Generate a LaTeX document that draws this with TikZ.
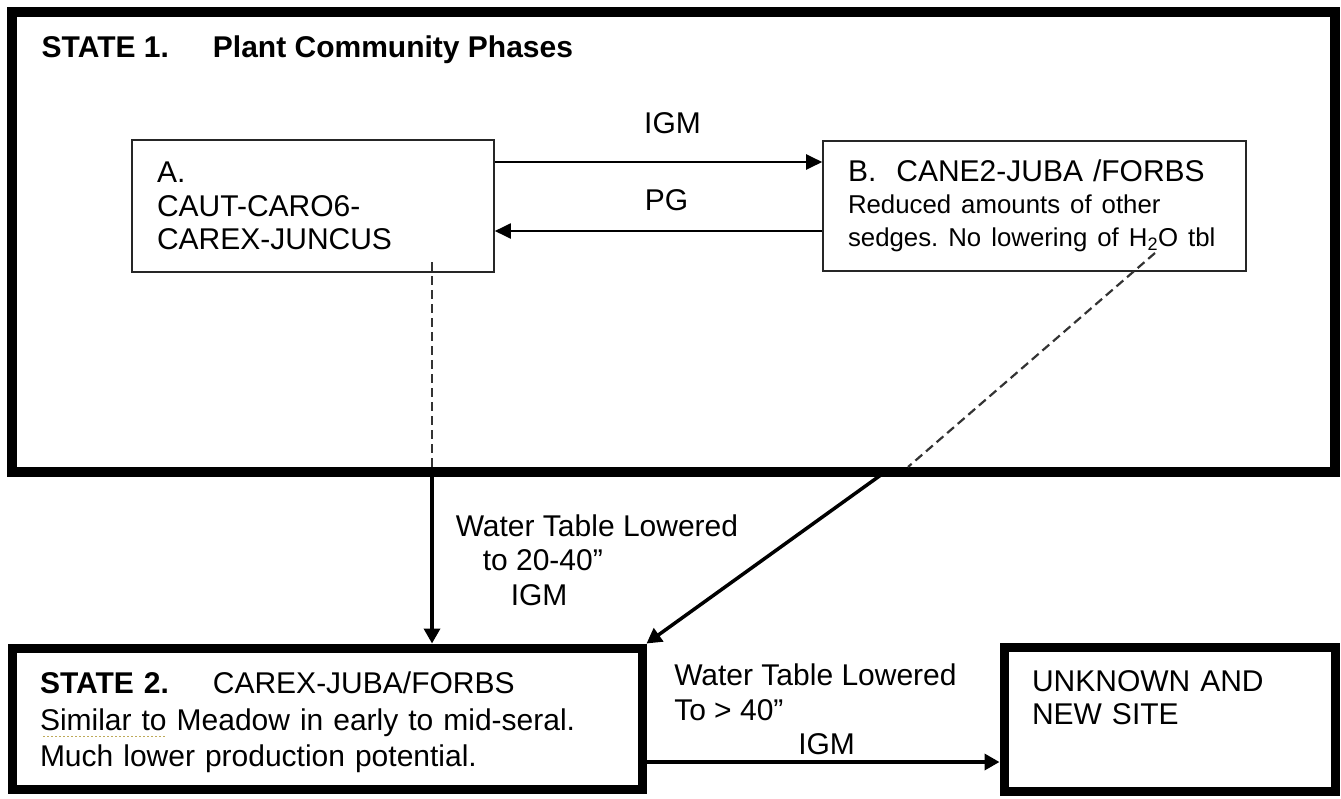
\documentclass[tikz,border=0pt]{standalone}
\usepackage{fontspec}
\setmainfont{Liberation Sans}
\usetikzlibrary{arrows.meta}
\definecolor{squiggle}{RGB}{190,170,90}
\newcommand{\mainsize}{\fontsize{30}{33.5}\selectfont}
\newcommand{\smallsize}{\fontsize{25.8}{32}\selectfont}
\newcommand{\lblsize}{\fontsize{30}{34.5}\selectfont}
\tikzstyle{phase} = [rectangle, draw=black!85, line width=1.6pt, inner xsep=25pt, inner ysep=0pt, align=left, font=\mainsize]
\tikzstyle{statebox} = [rectangle, draw=black, line width=9pt, inner xsep=28pt, inner ysep=0pt, align=left, font=\mainsize]
\tikzstyle{arrow} = [line width=2pt, -{Triangle[length=16pt,width=15pt]}]
\tikzstyle{bigarrow} = [line width=3.5pt, -{Triangle[length=15pt,width=16pt]}]
\tikzstyle{dashline} = [line width=2.2pt, dash pattern=on 9pt off 5pt, black!80]
\tikzstyle{lbl} = [font=\lblsize, inner sep=0pt, align=left]

\begin{document}
\frenchspacing
\begin{tikzpicture}[x=1pt, y=-1pt]
    \useasboundingbox (0,0) rectangle (1341,798);
    % state 1 frame
    \node (state1) [statebox, line width=10pt, minimum width=1323pt, minimum height=460pt] at (673.5,242) {};
    \node (title) [lbl, font=\mainsize\bfseries, anchor=base west] at (41.5,57) {STATE 1.\hspace{44pt}Plant Community Phases};
    % community phases
    \node (phaseA) [phase, minimum width=362pt, minimum height=132pt, text width=312pt] at (313,206) {A.\\CAUT-CARO6-\\CAREX-JUNCUS};
    \node (phaseB) [phase, minimum width=423pt, minimum height=130pt, text width=373pt] at (1034.5,206) {B.\ \ CANE2-JUBA /FORBS\\\smallsize Reduced amounts of other\\sedges. No lowering of H\textsubscript{2}O tbl};
    \draw [arrow] ([yshift=44pt]phaseA.east) -- node (igmAB) [lbl, above=27pt, xshift=14pt] {IGM} ([yshift=44pt]phaseA.east -| phaseB.west);
    \draw [arrow] ([yshift=-25pt]phaseB.west) -- node (pgBA) [lbl, above=19pt, xshift=8pt] {PG} ([yshift=-25pt]phaseB.west -| phaseA.east);
    % state 2 and unknown site
    \node (state2) [statebox, minimum width=630pt, minimum height=141pt, text width=574pt, text depth=71pt, font=\fontsize{30}{36.5}\selectfont] at (327,718.5) {\textbf{STATE 2.}\hspace{44pt}CAREX-JUBA/FORBS\\Similar to Meadow in early to mid-seral.\\Much lower production potential.};
    \draw [squiggle, line width=1.8pt, dash pattern=on 1.8pt off 2.2pt] (43,736.5) -- (166,736.5);
    \node (unknown) [statebox, minimum width=331pt, minimum height=144pt, text width=275pt, text depth=76pt] at (1169.5,719) {UNKNOWN AND\\NEW SITE};
    % transitions
    \coordinate (dropA) at (432,262);
    \coordinate (dropB) at (1155,253);
    \coordinate (dashendB) at (908,467);
    \coordinate (exitB) at (885,472);
    \draw [dashline] (dropA) -- ([yshift=10pt]dropA |- state1.south);
    \draw [dashline] (dropB) -- (dashendB);
    \draw [bigarrow] (dropA |- state1.south) -- node (lowered1) [lbl, right=22pt] {Water Table Lowered\\\hspace*{27pt}to 20-40”\\\hspace*{55pt}IGM} (dropA |- state2.north);
    \draw [bigarrow] (exitB) -- (state2.north east);
    \draw [bigarrow] ([yshift=-43.5pt]state2.east) -- node (lowered2) [lbl, at start, anchor=south west, xshift=26pt, yshift=5pt] {Water Table Lowered\\To > 40”\\\hspace*{124pt}IGM} ([yshift=-43.5pt]state2.east -| unknown.west);
\end{tikzpicture}
\end{document}
